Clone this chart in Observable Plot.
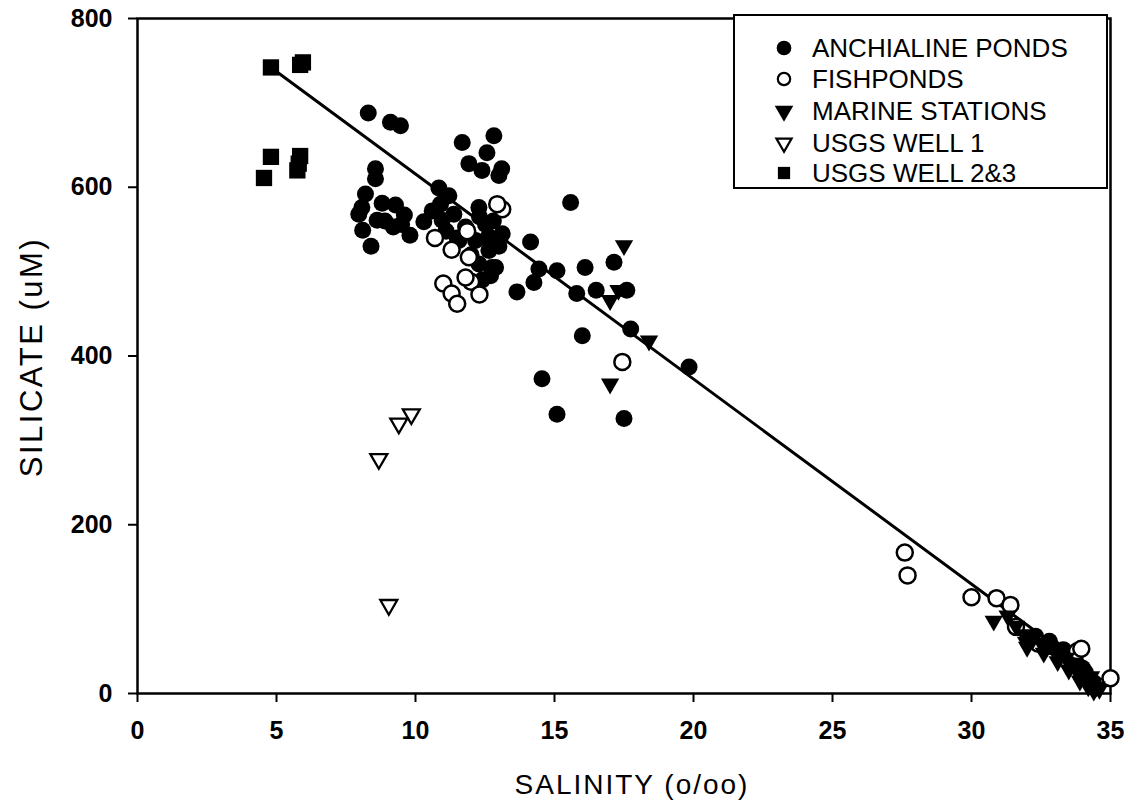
<!DOCTYPE html>
<html><head><meta charset="utf-8">
<script src="https://cdn.jsdelivr.net/npm/d3@7"></script>
<script src="https://cdn.jsdelivr.net/npm/@observablehq/plot@0.6"></script>
<style>
body{margin:0;background:#fff;}
#wrap{position:relative;width:1133px;height:805px;font-family:"Liberation Sans",Arial,sans-serif;color:#000;}
.title{position:absolute;font-size:28px;letter-spacing:2px;white-space:nowrap;line-height:1;}
#legend{position:absolute;left:733px;top:14px;width:375px;height:175px;border:2px solid #000;background:#fff;box-sizing:border-box;}
.lrow{position:absolute;left:0;height:30px;width:370px;}
.lrow svg{position:absolute;left:34px;top:0;}
.lrow span{position:absolute;left:77px;top:2px;font-size:26px;line-height:26px;white-space:nowrap;}
</style></head><body><div id="wrap"></div>
<script>
// [salinity (o/oo), silicate (uM)]
const anchialine = [
  [8.3,688],[9.1,677],[9.46,673],
  [11.68,653],[12.82,661],[12.57,641],[11.92,628],[12.39,620],[13.0,614],[13.1,622],
  [8.56,622],[8.56,610],[8.2,592],[8.07,576],[7.96,568],[8.1,549],[8.4,530],[8.8,581],[9.28,579],[9.6,567],
  [9.2,553],[8.62,561],[9.8,543],[8.9,560],[9.5,556],
  [10.84,599],[11.2,590],[10.6,572],[10.3,559],[10.96,561],[11.38,568],[11.1,548],[11.5,540],[10.9,580],
  [12.28,576],[12.52,556],[13.12,545],[12.64,525],[12.88,505],[12.28,509],[11.8,553],[12.16,537],[11.56,537],
  [12.0,520],[12.6,540],[12.3,565],[12.7,495],[12.4,490],[13.0,530],[12.8,560],
  [13.65,476],[14.14,535],[14.44,503],[14.26,487],[12.75,505],[15.58,582],[15.09,501],[16.1,505],[17.14,511],
  [15.8,474],[16.5,478],[17.6,478],[17.74,432],[16.0,424],[19.84,387],[14.55,373],[15.09,331],[17.5,326],
  [32.3,68],[32.8,62],[32.9,55],[33.3,52],[33.4,45],[33.6,45],[33.8,35],[34.0,30],[34.1,25],[34.3,15]
];
const fishponds = [
  [13.12,574],[12.94,580],[11.86,548],[10.7,540],[11.3,526],[11.92,517],[11.0,486],[11.3,474],[11.5,462],
  [12.0,488],[11.8,493],[12.3,473],[17.44,393],
  [27.6,167],[27.7,140],[30.0,114],[30.9,113],[31.4,105],[31.6,79],[32.4,59],[33.8,50],[33.95,53],[35.0,18]
];
const marine = [
  [17.0,466],[17.5,531],[18.4,418],[17.0,367],[17.3,478],
  [30.8,86],[31.96,61],
  [31.3,92],[31.6,80],[31.9,70],[32.2,64],[32.5,60],[32.7,55],[33.0,50],[33.2,46],[33.4,42],[33.6,36],
  [33.8,30],[34.0,25],[34.2,18],[34.4,12],[34.5,8],[34.6,5],[33.9,15],[34.3,20],
  [32.0,55],[32.6,48],[33.1,38],[33.5,28],[33.9,20],[34.2,8],[34.4,3]
];
const usgsWell1 = [[9.85,331],[9.4,320],[8.68,278],[9.04,105]];
const usgsWell23 = [[4.8,742],[5.85,745],[5.95,748],[4.8,636],[4.55,611],[5.85,637],[5.75,620],[5.8,628]];
const fitLine = [[4.8,742],[34.6,18]];

const xTicks = [0,5,10,15,20,25,30,35];
const yTicks = [0,200,400,600,800];
const xTitle = "SALINITY (o/oo)";
const yTitle = "SILICATE (uM)";
const legendLabels = ["ANCHIALINE PONDS","FISHPONDS","MARINE STATIONS","USGS WELL 1","USGS WELL 2&3"];

const chart = Plot.plot({
  width: 1133, height: 805,
  marginLeft: 137, marginRight: 23, marginTop: 18, marginBottom: 112,
  x: {domain: [0, 35]},
  y: {domain: [0, 800]},
  style: {fontFamily: "Liberation Sans, Arial, sans-serif", fontSize: "25px", color: "#000", background: "#fff"},
  marks: [
    Plot.frame({stroke: "#000", strokeWidth: 2.5}),
    Plot.axisX({ticks: xTicks, tickSize: 9, tickPadding: 19, label: null, strokeWidth: 2, fontWeight: "bold"}),
    Plot.axisY({ticks: yTicks, tickSize: 9, tickPadding: 16, label: null, strokeWidth: 2, fontWeight: "bold"}),
    Plot.line(fitLine, {x: d => d[0], y: d => d[1], stroke: "#000", strokeWidth: 3}),
    Plot.dot(anchialine, {x: d => d[0], y: d => d[1], r: 8.5, fill: "#000", stroke: "none"}),
    Plot.dot(fishponds, {x: d => d[0], y: d => d[1], r: 8, fill: "#fff", stroke: "#000", strokeWidth: 2.5}),
    Plot.dot(marine, {x: d => d[0], y: d => d[1], r: 6.8, symbol: "triangle", rotate: 180, fill: "#000", stroke: "none"}),
    Plot.dot(usgsWell1, {x: d => d[0], y: d => d[1], r: 6.3, symbol: "triangle", rotate: 180, fill: "#fff", stroke: "#000", strokeWidth: 2.3}),
    Plot.dot(usgsWell23, {x: d => d[0], y: d => d[1], r: 9.2, symbol: "square", fill: "#000", stroke: "none"})
  ]
});

const wrap = document.getElementById("wrap");
wrap.appendChild(chart);

// axis titles
const xt = document.createElement("div");
xt.className = "title"; xt.textContent = xTitle;
xt.style.left = "0px"; xt.style.width = "1133px"; xt.style.textAlign = "center";
xt.style.paddingLeft = "131px"; xt.style.boxSizing = "border-box";
xt.style.top = "771px";
wrap.appendChild(xt);

const yt = document.createElement("div");
yt.className = "title"; yt.textContent = yTitle;
yt.style.fontSize = "31px"; yt.style.letterSpacing = "2.5px";
yt.style.left = "31px"; yt.style.top = "357px";
yt.style.transform = "translate(-50%,-50%) rotate(-90deg)";
wrap.appendChild(yt);

// legend
const legend = document.createElement("div");
legend.id = "legend";
wrap.appendChild(legend);
const legendSym = [
  {type: d3.symbolCircle, size: 170, fill: "#000", stroke: "none", rot: 0},
  {type: d3.symbolCircle, size: 120, fill: "#fff", stroke: "#000", rot: 0},
  {type: d3.symbolTriangle, size: 150, fill: "#000", stroke: "none", rot: 180},
  {type: d3.symbolTriangle, size: 100, fill: "#fff", stroke: "#000", rot: 180},
  {type: d3.symbolSquare, size: 150, fill: "#000", stroke: "none", rot: 0}
];
const rowTops = [17, 48, 80, 112, 142];
legendLabels.forEach((lab, i) => {
  const row = document.createElement("div");
  row.className = "lrow";
  row.style.top = rowTops[i] + "px";
  const s = legendSym[i];
  const svg = d3.create("svg").attr("width", 30).attr("height", 30);
  svg.append("path")
    .attr("d", d3.symbol(s.type, s.size)())
    .attr("transform", `translate(15,15) rotate(${s.rot})`)
    .attr("fill", s.fill).attr("stroke", s.stroke).attr("stroke-width", 2.2);
  row.appendChild(svg.node());
  const sp = document.createElement("span");
  sp.textContent = lab;
  row.appendChild(sp);
  legend.appendChild(row);
});
</script>
</body></html>
